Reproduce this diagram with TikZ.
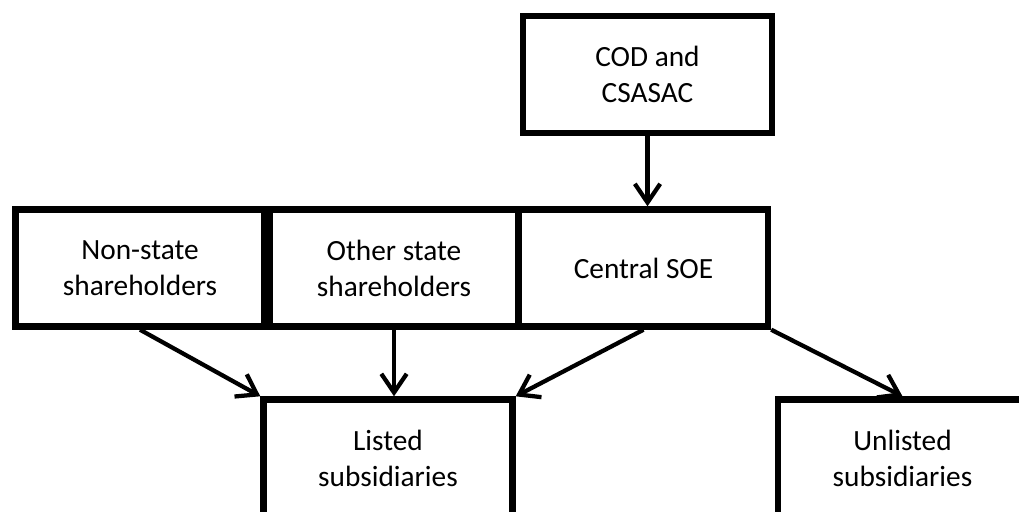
\documentclass[tikz,border=0pt]{standalone}
\usepackage{fontspec}
\setmainfont{Carlito}
\usetikzlibrary{arrows.meta}
\begin{document}
\begin{tikzpicture}[x=0.75pt,y=-0.75pt,line width=4.8pt,>={Straight Barb[length=14pt,width=19pt]},font=\fontsize{22}{27}\selectfont,
		box/.style={draw,rectangle,minimum width=186.75pt,minimum height=87.75pt,align=center,inner sep=0pt},
		arr/.style={->,line width=3.2pt}]
				\useasboundingbox (0,0) rectangle (1019,511);
				\clip (0,0) rectangle (1019,511);
				\node[box] (cod) at (647.5,74.5) {COD and\\CSASAC};
				\node[box] (nonstate) at (140,268) {Non-state\\shareholders};
				\node[box] (other) at (394,268) {Other state\\shareholders};
				\node[box] (central) at (643.5,268) {Central SOE};
				\node[box] (listed) at (388,458) {Listed\\subsidiaries};
				\node[box] (unlisted) at (902.5,458) {Unlisted\\subsidiaries};
				\draw[arr] (cod.south)--(cod.south |- central.north);
				\draw[arr] (nonstate.south)--(listed.north west);
				\draw[arr] (other.south)--(other.south |- listed.north);
				\draw[arr] (central.south)--(listed.north east);
				\draw[arr] (central.south east)--(unlisted.north);
			\end{tikzpicture}
\end{document}
